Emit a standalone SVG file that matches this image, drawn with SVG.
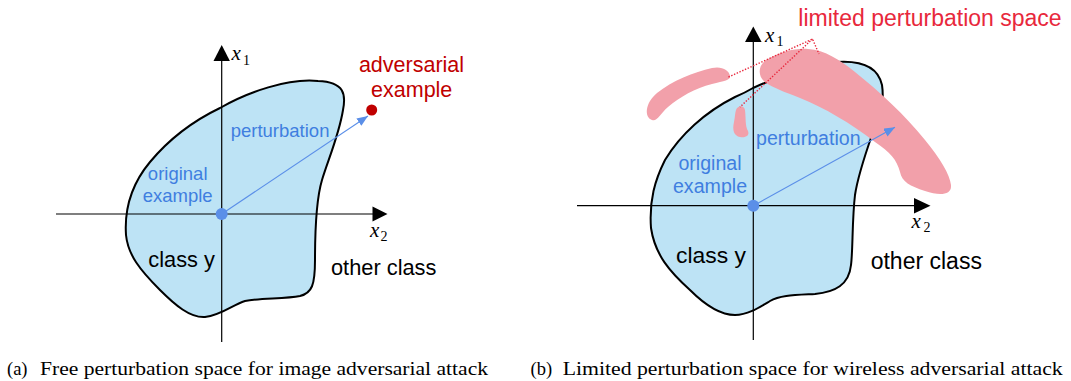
<svg xmlns="http://www.w3.org/2000/svg" width="1071" height="381" viewBox="0 0 1071 381">
  <style>
    .region { fill: #bde3f5; stroke: #000; stroke-width: 2; }
    .axis { stroke: #000; stroke-width: 1.2; fill: none; }
    .head { fill: #000; }
    .pert { stroke: #5b8fe8; stroke-width: 1.1; fill: none; }
    .dot { fill: #5b8fe8; }
    .pink { fill: #f2a0aa; }
    .lead { stroke: #e8283c; stroke-width: 1.4; stroke-dasharray: 1.4 1.6; fill: none; }
    .sans { font-family: "Liberation Sans", Arial, sans-serif; }
    .blue { fill: #3f7ee0; }
    .black { fill: #000; }
    .var { font-family: "Liberation Serif", "Times New Roman", serif; font-style: italic; font-size: 21px; fill: #000; }
    .sub { font-family: "Liberation Serif", "Times New Roman", serif; font-size: 14px; fill: #000; }
    .cap { font-family: "Liberation Serif", "Times New Roman", serif; font-size: 18.5px; fill: #000; }
  </style>
  <defs>
    <marker id="tip" markerUnits="userSpaceOnUse" markerWidth="12" markerHeight="10" refX="11" refY="4.5" orient="auto">
      <path d="M0,0 L11,4.5 L0,9 Z" fill="#5b8fe8"/>
    </marker>
  </defs>
  <rect width="1071" height="381" fill="#fff"/>

  <!-- (a) free perturbation space -->
  <g id="panel-a">
    <g id="class-region-a">
      <path class="region" d="M220,108 C248,92 288,78 318,81 C345,82 346,95 343,110 C339,135 328,160 322,180 C316,200 315,230 315,260 C315,285 312,293 300,296 C285,299 260,298 245,301 C232,305 222,315 205,317 C190,318 175,305 160,290 C140,270 128,255 126,235 C124,205 135,180 150,162 C170,138 195,120 220,108 Z"/>
    </g>
    <g id="axes-a">
      <line class="axis" x1="221.7" y1="342" x2="221.7" y2="58"/>
      <polygon class="head" points="221.7,45 213.5,61 229.9,61"/>
      <line class="axis" x1="56" y1="214" x2="375" y2="214"/>
      <polygon class="head" points="387.5,214 372.5,206.5 372.5,221.5"/>
      <text class="var" x="231.5" y="60">x</text>
      <text class="sub" x="243" y="64.5">1</text>
      <text class="var" x="370" y="236.5">x</text>
      <text class="sub" x="380.5" y="240.5">2</text>
    </g>
    <g id="connectors-a">
      <line class="pert" x1="221.7" y1="214" x2="368" y2="116" marker-end="url(#tip)"/>
    </g>
    <g id="original-a">
      <circle class="dot" cx="221.7" cy="214" r="6"/>
      <text class="sans blue" font-size="18.5" text-anchor="middle" x="177.7" y="180">original</text>
      <text class="sans blue" font-size="18.5" text-anchor="middle" x="177.7" y="201.7">example</text>
    </g>
    <text class="sans blue" font-size="18.5" x="230.7" y="137.3">perturbation</text>
    <g id="adversarial-a">
      <circle cx="371.7" cy="110" r="5.5" fill="#c00000"/>
      <text class="sans" fill="#c00000" font-size="21.5" text-anchor="middle" x="411.5" y="71.7">adversarial</text>
      <text class="sans" fill="#c00000" font-size="21.5" text-anchor="middle" x="411.7" y="96.7">example</text>
    </g>
    <text class="sans black" font-size="21.8" x="148.3" y="267.3">class y</text>
    <text class="sans black" font-size="21.8" x="331" y="275">other class</text>
  </g>

  <!-- (b) limited perturbation space -->
  <g id="panel-b">
    <g id="class-region-b">
      <path class="region" d="M753,88 C780,76 805,66 835,62 C860,60 878,66 882,85 C885,105 878,125 872,135 C865,155 858,175 855,195 C852,220 853,250 851,265 C849,285 835,292 815,294 C795,295 780,295 770,301 C760,307 748,315 735,315 C720,315 705,305 690,290 C670,272 655,255 651,228 C649,200 655,180 665,160 C680,135 705,112 735,97 C742,94 748,91 753,88 Z"/>
    </g>
    <g id="limited-space">
      <path class="pink" d="M765,82 C757,76 758,64 768,59 C780,52 795,48 808,49 C825,50 840,60 855,72 C880,92 905,115 925,140 C940,158 950,175 951,185 C952,195 940,196 925,191 C910,186 902,182 900,172 C897,160 890,152 875,142 C850,123 825,108 800,98 C785,92 773,88 765,82 Z"/>
      <path class="pink" d="M652,120 C644,117 645,103 657,93 C672,81 694,72 712,68 C722,66 729,70 730,76 C731,80 724,81 712,84 C695,88 680,97 668,107 C660,114 657,122 652,120 Z"/>
      <path class="pink" d="M736,110 C738,105 744,105 745,110 C746,118 745,126 748,131 C750,136 745,138 740,137 C734,136 732,130 734,122 C735,117 735,113 736,110 Z"/>
      <text class="sans" fill="#e8283c" font-size="23" x="798.3" y="26">limited perturbation space</text>
    </g>
    <g id="axes-b">
      <line class="axis" x1="753.3" y1="340" x2="753.3" y2="39"/>
      <polygon class="head" points="753.3,26.5 745,42 761.6,42"/>
      <line class="axis" x1="577" y1="205.7" x2="916" y2="205.7"/>
      <polygon class="head" points="930.5,205.7 914,198 914,213.4"/>
      <text class="var" x="765" y="41.7">x</text>
      <text class="sub" x="776.5" y="45.5">1</text>
      <text class="var" x="911.5" y="228.3">x</text>
      <text class="sub" x="923.5" y="232">2</text>
    </g>
    <g id="connectors-b">
      <line class="pert" x1="753.3" y1="205.7" x2="895" y2="127.3" marker-end="url(#tip)"/>
      <polyline class="lead" points="728.5,77 812.5,39 819,54"/>
      <line class="lead" x1="812.5" y1="39" x2="740" y2="107"/>
    </g>
    <g id="original-b">
      <circle class="dot" cx="753.3" cy="205.7" r="6"/>
      <text class="sans blue" font-size="19.6" text-anchor="middle" x="710" y="170">original</text>
      <text class="sans blue" font-size="19.6" text-anchor="middle" x="710" y="193.3">example</text>
    </g>
    <text class="sans blue" font-size="19.6" x="756" y="145">perturbation</text>
    <text class="sans black" font-size="22.9" x="676" y="262.7">class y</text>
    <text class="sans black" font-size="23" x="870.7" y="269.3">other class</text>
  </g>

  <!-- captions -->
  <g id="captions">
    <text class="cap" x="7" y="374.5">(a)</text>
    <text class="cap" x="40" y="374.5" textLength="448" lengthAdjust="spacingAndGlyphs">Free perturbation space for image adversarial attack</text>
    <text class="cap" x="530.5" y="374.5">(b)</text>
    <text class="cap" x="562.7" y="374.5" textLength="500" lengthAdjust="spacingAndGlyphs">Limited perturbation space for wireless adversarial attack</text>
  </g>
</svg>
